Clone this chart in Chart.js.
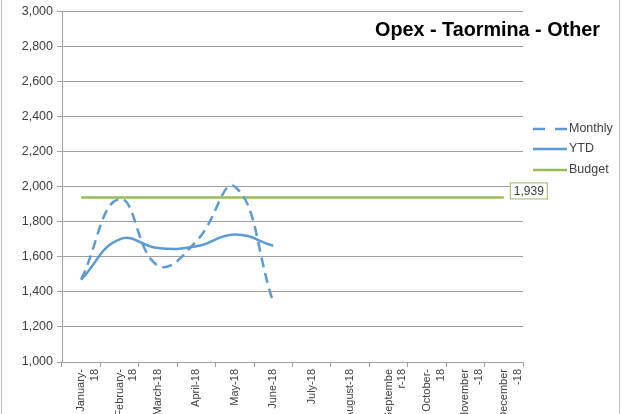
<!DOCTYPE html>
<html><head><meta charset="utf-8">
<script src="https://cdn.jsdelivr.net/npm/chart.js@4/dist/chart.umd.min.js"></script>
<style>html,body{margin:0;padding:0;background:#fff;overflow:hidden}#wrap{width:625px;height:414px;position:relative}</style>
</head><body><div id="wrap"><canvas id="c" width="625" height="414"></canvas></div>
<script>
const categories = [["January-","18"],["February-","18"],"March-18","April-18","May-18","June-18","July-18","August-18",["Septembe","r-18"],["October-","18"],["November","-18"],["December","-18"]];
const monthly = [1470, 1930, 1550, 1690, 2000, 1340, null, null, null, null, null, null];
const ytd = [1470, 1700, 1650, 1660, 1728, 1663, null, null, null, null, null, null];
const budget = [1939, 1939, 1939, 1939, 1939, 1939, 1939, 1939, 1939, 1939, 1939, 1939];
const yMin = 1000, yMax = 3000, yStep = 200;
const titleText = "Opex - Taormina - Other";
const budgetLabel = "1,939";

const BLUE = "#5B9BD5", GREEN = "#9BBB59", TXT = "#404040";
const FONT = "'Liberation Sans', Arial, sans-serif";

const deco = {
  id: "deco",
  afterDraw(chart) {
    const ctx = chart.ctx;
    ctx.save();
    ctx.strokeStyle = "#BFBFBF"; ctx.lineWidth = 1;
    ctx.beginPath(); ctx.moveTo(1.5, 0); ctx.lineTo(1.5, 414); ctx.moveTo(619.5, 0); ctx.lineTo(619.5, 414); ctx.stroke();
    let size = 20;
    ctx.font = "bold " + size + "px " + FONT;
    const w = ctx.measureText(titleText).width;
    size = size * 225 / w;
    ctx.font = "bold " + size.toFixed(2) + "px " + FONT;
    ctx.fillStyle = "#000"; ctx.textAlign = "left"; ctx.textBaseline = "alphabetic";
    ctx.fillText(titleText, 375, 36);
    const items = [{t:"Monthly", c:BLUE, d:[12,10], y:129}, {t:"YTD", c:BLUE, d:[], y:149}, {t:"Budget", c:GREEN, d:[], y:170}];
    ctx.font = "12.5px " + FONT; ctx.textBaseline = "middle";
    items.forEach(it => {
      ctx.strokeStyle = it.c; ctx.lineWidth = 2.5; ctx.setLineDash(it.d);
      ctx.beginPath(); ctx.moveTo(533, it.y); ctx.lineTo(567, it.y); ctx.stroke();
      ctx.setLineDash([]);
      ctx.fillStyle = TXT; ctx.fillText(it.t, 569, it.y);
    });
    const xs = chart.scales.x, ys = chart.scales.y;
    const px = xs.getPixelForValue(budget.length - 1), py = ys.getPixelForValue(budget[budget.length - 1]);
    const bx = px + 6, by = py - 15;
    ctx.fillStyle = "#fff"; ctx.fillRect(bx, by, 38, 17);
    ctx.strokeStyle = GREEN; ctx.lineWidth = 1; ctx.strokeRect(bx + 0.5, by + 0.5, 37, 16);
    ctx.fillStyle = TXT; ctx.textAlign = "center"; ctx.font = "12px " + FONT;
    ctx.fillText(budgetLabel, bx + 19, by + 9);
    ctx.restore();
  }
};

new Chart(document.getElementById("c"), {
  type: "line",
  data: {
    labels: categories,
    datasets: [
      {label: "Monthly", data: monthly, borderColor: BLUE, borderWidth: 2.5, borderDash: [10, 6], tension: 0.45, pointRadius: 0, fill: false},
      {label: "YTD", data: ytd, borderColor: BLUE, borderWidth: 2.5, tension: 0.45, pointRadius: 0, fill: false},
      {label: "Budget", data: budget, borderColor: GREEN, borderWidth: 2.5, tension: 0, pointRadius: 0, fill: false}
    ]
  },
  options: {
    responsive: false, animation: false,
    layout: {padding: {left: 0, right: 102, top: 10, bottom: 0}},
    plugins: {legend: {display: false}, tooltip: {enabled: false}, title: {display: false}},
    scales: {
      x: {
        offset: true,
        afterFit(s) { s.height = 52; },
        grid: {display: true, drawOnChartArea: false, offset: true, tickLength: 5, color: "#A0A0A0"},
        border: {color: "#A0A0A0", width: 1},
        ticks: {maxRotation: 90, minRotation: 90, autoSkip: false, padding: 2, color: TXT, font: {family: FONT, size: 11, lineHeight: 1.25}}
      },
      y: {
        min: yMin, max: yMax,
        afterFit(s) { s.width = 62; },
        grid: {color: "#A0A0A0", tickLength: 5},
        border: {color: "#A0A0A0", width: 1},
        ticks: {stepSize: yStep, padding: 4, color: TXT, font: {family: FONT, size: 12.5},
          callback: v => v.toLocaleString("en-US")}
      }
    }
  },
  plugins: [deco]
});
</script></body></html>
